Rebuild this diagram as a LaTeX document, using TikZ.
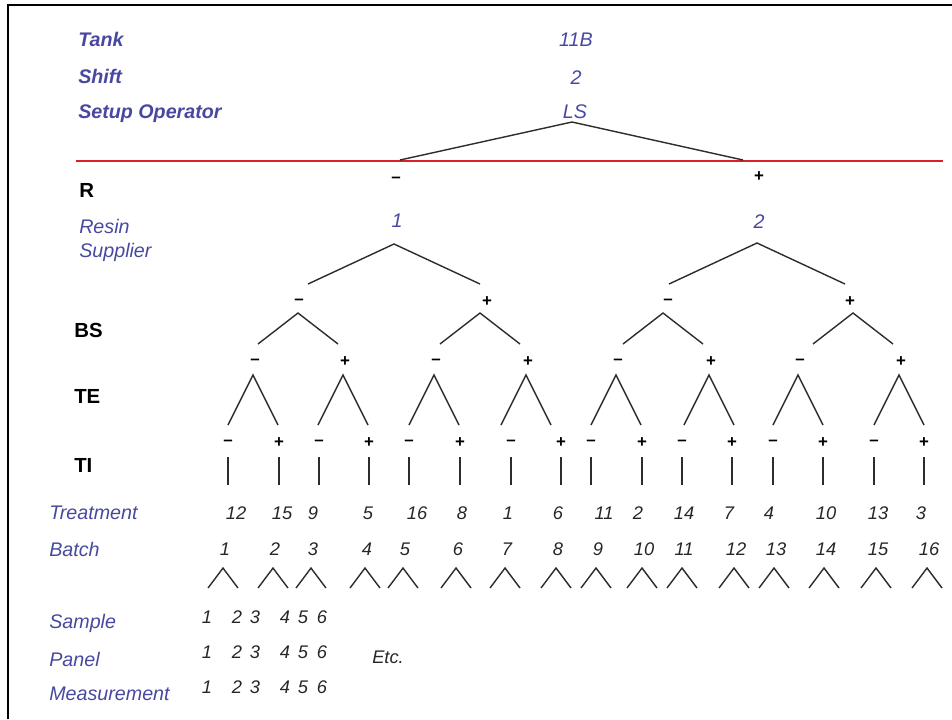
\documentclass[tikz,border=0pt]{standalone}
\usepackage{fontspec}
\setmainfont{Liberation Sans}
\usetikzlibrary{calc}

\definecolor{labelblue}{RGB}{72,72,160}
\definecolor{treegray}{RGB}{45,45,45}
\definecolor{splitred}{RGB}{220,30,40}

\tikzset{
  head/.style={anchor=base west, inner sep=0pt, text=labelblue, font=\fontsize{14}{16}\selectfont\bfseries\itshape},
  headval/.style={anchor=base, inner sep=0pt, text=labelblue, font=\fontsize{14}{16}\selectfont\itshape},
  factor/.style={anchor=base west, inner sep=0pt, font=\fontsize{14.5}{16}\selectfont\bfseries},
  rowlabel/.style={anchor=base west, inner sep=0pt, text=labelblue, font=\fontsize{14}{16}\selectfont\itshape},
  num/.style={anchor=base, inner sep=0pt, text=black!85, font=\fontsize{13}{15}\selectfont\itshape},
  sign/.style={inner sep=0pt, font=\fontsize{12}{12}\selectfont\bfseries},
  branch/.style={draw=treegray, line width=1pt},
}

% fork below node #1: apex at offset (#2,#3), half width #4, depth #5
\newcommand{\drawfork}[5]{%
  \draw[branch] ($(#1)+({#2-#4},{#3+#5})$) -- ($(#1)+(#2,#3)$) -- ($(#1)+({#2+#4},{#3+#5})$);}

\begin{document}
\begin{tikzpicture}[x=0.025cm,y=-0.025cm]
    \useasboundingbox (0,0) rectangle (952,719);
    \draw[line width=1.8pt] (8,719) -- (8,5) -- (952,5);

    % fixed settings above the red line
    \node[head] (tank) at (78,46) {Tank};
    \node[head] (shift) at (78,83) {Shift};
    \node[head] (setup) at (78,118) {Setup Operator};
    \node[headval] (tankval) at (576,46) {11B};
    \node[headval] (shiftval) at (576,84) {2};
    \node[headval] (setupval) at (575,118) {LS};
    \draw[splitred, line width=1.8pt] (76,161) -- (943,161);
    \coordinate (splitl) at (400,160);
    \coordinate (splitr) at (743,160);
    \draw[branch] (splitl) -- ($(setupval.base)+(-3,4)$) -- (splitr);

    % resin supplier
    \node[factor] (rlab) at (79,197) {R};
    \node[rowlabel] (resin) at (79,233) {Resin};
    \node[rowlabel] (supplier) at (79,257) {Supplier};
    \node[sign] (rminus) at (396,180) {–};
    \node[sign] (rplus) at (759,177) {+};
    \node[headval] (sup1) at (397,227) {1};
    \node[headval] (sup2) at (759,228) {2};
    \drawfork{sup1.base}{-3}{17}{86}{40}
    \drawfork{sup2.base}{-2}{15}{88}{41}

    % BS
    \node[factor] (bslab) at (74,337) {BS};
    \node[sign] (bs1) at (299,302) {–};
    \node[sign] (bs2) at (487,302) {+};
    \node[sign] (bs3) at (668,302) {–};
    \node[sign] (bs4) at (850,302) {+};
    \drawfork{bs1}{-1}{11}{40}{31}
    \drawfork{bs2}{-7}{11}{40}{31}
    \drawfork{bs3}{-5}{11}{40}{31}
    \drawfork{bs4}{3}{11}{40}{31}

    % TE
    \node[factor] (telab) at (74,403) {TE};
    \foreach \x/\sg [count=\i] in {255/–,345/+,436/–,528/+,618/–,711/+,800/–,901/+}{
        \node[sign] (te\i) at (\x,362) {\sg};
        \drawfork{te\i}{-2}{13}{25}{50}
    }

    % TI
    \node[factor] (tilab) at (74,472) {TI};
    \foreach \x/\sg [count=\i] in {228/–,279/+,319/–,369/+,409/–,460/+,511/–,561/+,591/–,642/+,682/–,732/+,773/–,823/+,874/–,924/+}{
        \node[sign] (ti\i) at (\x,443) {\sg};
        \draw[branch] ($(ti\i)+(0,14)$) -- ($(ti\i)+(0,42)$);
    }

    % treatments and batches
    \node[rowlabel] (treatment) at (49,519) {Treatment};
    \node[rowlabel] (batch) at (49,556) {Batch};
    \foreach \x/\t [count=\i] in {236/12,282/15,313/9,368/5,417/16,462/8,508/1,558/6,604/11,638/2,684/14,729/7,769/4,826/10,878/13,921/3}
        \node[num] (trt\i) at (\x,519) {\t};
    \foreach \x [count=\i] in {225,275,313,367,405,458,507,558,598,644,684,736,776,826,878,929}{
        \node[num] (bat\i) at (\x,555) {\i};
        \drawfork{bat\i.base}{-2}{13}{15}{20}
    }

    % samples, panels, measurements
    \node[rowlabel] (sample) at (49,628) {Sample};
    \node[rowlabel] (panel) at (49,666) {Panel};
    \node[rowlabel] (measurement) at (49,700) {Measurement};
    \foreach \y [count=\r] in {623,658,693}
        \foreach \x [count=\i] in {207,237,255,285,303,322}
            \node[num] (obs\r-\i) at (\x,\y) {\i};
    \node[num] (etc) at (388,663) {Etc.};
\end{tikzpicture}
\end{document}
